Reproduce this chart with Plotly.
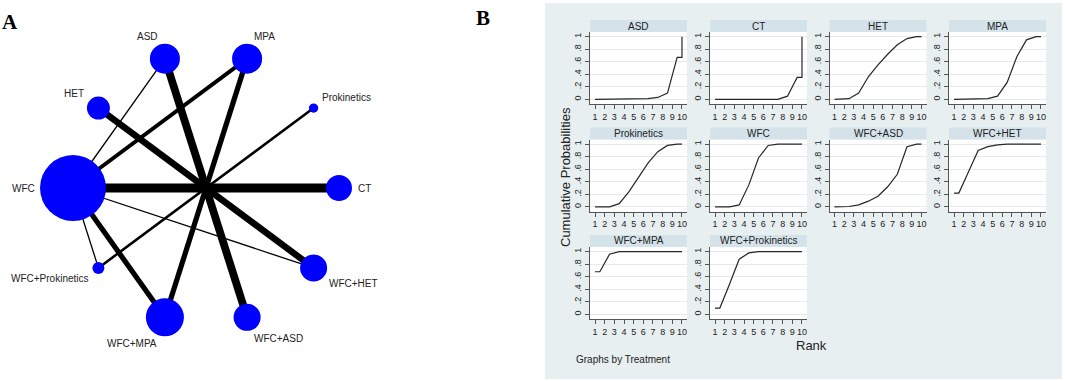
import math
import plotly.graph_objects as go

W, H = 1065, 381

# ---------------- Panel A data (network) ----------------
treatments = ["CT", "Prokinetics", "MPA", "ASD", "HET", "WFC",
              "WFC+Prokinetics", "WFC+MPA", "WFC+ASD", "WFC+HET"]
participants = [225, 29, 300, 300, 176, 1450, 48, 481, 243, 243]
edge_from = ["WFC", "HET", "ASD", "MPA", "Prokinetics",
             "WFC", "WFC", "WFC", "WFC", "WFC"]
edge_to = ["CT", "WFC+HET", "WFC+ASD", "WFC+MPA", "WFC+Prokinetics",
           "ASD", "MPA", "WFC+MPA", "WFC+HET", "WFC+Prokinetics"]
edge_studies = [7, 5, 6, 4, 2, 1, 3, 4, 1, 1]

# ---------------- Panel B data (cumulative rank probabilities) ----------------
panel_order = ["ASD", "CT", "HET", "MPA", "Prokinetics", "WFC",
               "WFC+ASD", "WFC+HET", "WFC+MPA", "WFC+Prokinetics"]
rank_x = [1, 1.5, 2.5, 3.5, 4.5, 5.5, 6.5, 7.5, 8.5, 9.5, 10, 10]
cum_ASD = [0, 0, 0, 0, 0, 0.005, 0.01, 0.03, 0.10, 0.67, 0.67, 1.0]
cum_CT = [0, 0, 0, 0, 0, 0, 0, 0, 0.05, 0.35, 0.35, 1.0]
cum_HET = [0, 0, 0.01, 0.10, 0.36, 0.55, 0.72, 0.87, 0.97, 1.0, 1.0, 1.0]
cum_MPA = [0, 0, 0, 0, 0.01, 0.05, 0.27, 0.68, 0.95, 1.0, 1.0, 1.0]
cum_Prokinetics = [0, 0, 0, 0.05, 0.24, 0.47, 0.70, 0.88, 0.98, 1.0, 1.0, 1.0]
cum_WFC = [0, 0, 0, 0.03, 0.35, 0.78, 0.98, 1.0, 1.0, 1.0, 1.0, 1.0]
cum_WFC_ASD = [0, 0, 0.005, 0.03, 0.09, 0.17, 0.32, 0.52, 0.96, 1.0, 1.0, 1.0]
cum_WFC_HET = [0.22, 0.22, 0.56, 0.90, 0.96, 0.99, 1.0, 1.0, 1.0, 1.0, 1.0, 1.0]
cum_WFC_MPA = [0.68, 0.68, 0.96, 1.0, 1.0, 1.0, 1.0, 1.0, 1.0, 1.0, 1.0, 1.0]
cum_WFC_Prokinetics = [0.10, 0.10, 0.48, 0.88, 0.98, 1.0, 1.0, 1.0, 1.0, 1.0, 1.0, 1.0]
cum_series = [cum_ASD, cum_CT, cum_HET, cum_MPA, cum_Prokinetics, cum_WFC,
              cum_WFC_ASD, cum_WFC_HET, cum_WFC_MPA, cum_WFC_Prokinetics]
rank_ticks = [1, 2, 3, 4, 5, 6, 7, 8, 9, 10]
prob_ticks = [0, 0.2, 0.4, 0.6, 0.8, 1]
prob_labels = ["0", ".2", ".4", ".6", ".8", "1"]

FONT = "Liberation Sans, Arial, sans-serif"
BG_B = "#e8eff1"
STRIP = "#d4e3e9"
TXT = "#222222"

fig = go.Figure()
shapes = []
annotations = []

# ---------------- Panel A: network plot ----------------
cx, cy, Rx, Ry = 206, 188, 133, 136
pos = {}
ang = {}
for i, t in enumerate(treatments):
    a = math.radians(36 * i)
    ang[t] = a
    pos[t] = (cx + Rx * math.cos(a), cy - Ry * math.sin(a))

for f, t, n in zip(edge_from, edge_to, edge_studies):
    fig.add_trace(go.Scatter(
        x=[pos[f][0], pos[t][0]], y=[pos[f][1], pos[t][1]],
        mode="lines", line=dict(color="black", width=1.3 * n),
        xaxis="x", yaxis="y", showlegend=False, hoverinfo="skip"))

diam = [66 * math.sqrt(p / max(participants)) for p in participants]
fig.add_trace(go.Scatter(
    x=[pos[t][0] for t in treatments], y=[pos[t][1] for t in treatments],
    mode="markers",
    marker=dict(color="#0000ff", size=diam, opacity=1, line=dict(width=0)),
    xaxis="x", yaxis="y", showlegend=False, text=treatments, hoverinfo="text"))

for t, d in zip(treatments, diam):
    a = ang[t]
    c, s = math.cos(a), math.sin(a)
    dist = (Rx + Ry) / 2 + d / 2 + 3
    lx, ly = cx + dist * c, cy - dist * s
    xa = "left" if c > 0.2 else ("right" if c < -0.2 else "center")
    ya = "bottom" if s > 0.5 else ("top" if s < -0.5 else "middle")
    annotations.append(dict(x=lx, y=ly, xref="x", yref="y", text=t, showarrow=False,
                            xanchor=xa, yanchor=ya, borderpad=0,
                            font=dict(family=FONT, size=10, color=TXT)))

fig.update_layout(
    xaxis=dict(domain=[0, 540 / W], range=[0, 540], visible=False, fixedrange=True),
    yaxis=dict(domain=[0, 1], range=[H, 0], visible=False, fixedrange=True),
)

# ---------------- Panel B: small multiples ----------------
def px(x):
    return x / W


def py(y):
    return 1 - y / H


shapes.append(dict(type="rect", xref="paper", yref="paper", layer="below",
                   x0=px(545), x1=px(1062), y0=py(379), y1=py(3),
                   fillcolor=BG_B, line=dict(width=0)))

col_x = [590, 710, 829.5, 949]
pw, ph = 97, 72
for k, (name, ys) in enumerate(zip(panel_order, cum_series)):
    r, c = divmod(k, 4)
    x0 = col_x[c]
    top = 32 + r * 107.5
    bot = top + ph
    n = k + 2
    xa, ya = f"x{n}", f"y{n}"
    shapes.append(dict(type="rect", xref="paper", yref="paper", layer="below",
                       x0=px(x0), x1=px(x0 + pw), y0=py(bot), y1=py(top),
                       fillcolor="white", line=dict(width=0)))
    shapes.append(dict(type="rect", xref="paper", yref="paper", layer="below",
                       x0=px(x0), x1=px(x0 + pw), y0=py(top), y1=py(top - 12),
                       fillcolor=STRIP, line=dict(width=0)))
    annotations.append(dict(x=px(x0 + pw / 2), y=py(top - 6), xref="paper", yref="paper",
                            text=name, showarrow=False, xanchor="center", yanchor="middle",
                            font=dict(family=FONT, size=10, color=TXT)))
    fig.add_trace(go.Scatter(x=rank_x, y=ys, mode="lines",
                             line=dict(color="#262626", width=1.2),
                             xaxis=xa, yaxis=ya, showlegend=False))
    fig.layout[f"xaxis{n}"] = dict(
        domain=[px(x0), px(x0 + pw)], range=[0.48, 10.52], anchor=ya,
        tickvals=rank_ticks, ticks="outside", ticklen=4, tickcolor="#555",
        showline=True, linecolor="#555", linewidth=1, showgrid=False, zeroline=False,
        tickfont=dict(family=FONT, size=9, color=TXT), fixedrange=True)
    fig.layout[f"yaxis{n}"] = dict(
        domain=[py(bot), py(top)], range=[-0.075, 1.075], anchor=xa,
        tickvals=prob_ticks, ticktext=prob_labels, tickangle=-90,
        ticks="outside", ticklen=4, tickcolor="#555",
        showline=True, linecolor="#555", linewidth=1,
        showgrid=True, gridcolor="#e3ebee", gridwidth=1, zeroline=False,
        tickfont=dict(family=FONT, size=9, color=TXT), fixedrange=True)

annotations += [
    dict(x=px(565), y=py(177), xref="paper", yref="paper", text="Cumulative Probabilities",
         textangle=-90, showarrow=False, xanchor="center", yanchor="middle",
         font=dict(family=FONT, size=13, color=TXT)),
    dict(x=px(811), y=py(345), xref="paper", yref="paper", text="Rank",
         showarrow=False, xanchor="center", yanchor="middle",
         font=dict(family=FONT, size=13, color=TXT)),
    dict(x=px(574), y=py(359), xref="paper", yref="paper", text="Graphs by Treatment",
         showarrow=False, xanchor="left", yanchor="middle",
         font=dict(family=FONT, size=10, color=TXT)),
    dict(x=px(10), y=py(22), xref="paper", yref="paper", text="<b>A</b>",
         showarrow=False, xanchor="center", yanchor="middle",
         font=dict(family="Liberation Serif, Times New Roman, serif", size=21, color="black")),
    dict(x=px(483), y=py(18), xref="paper", yref="paper", text="<b>B</b>",
         showarrow=False, xanchor="center", yanchor="middle",
         font=dict(family="Liberation Serif, Times New Roman, serif", size=21, color="black")),
]

fig.update_layout(
    width=W, height=H, margin=dict(l=0, r=0, t=0, b=0),
    paper_bgcolor="white", plot_bgcolor="rgba(0,0,0,0)",
    shapes=shapes, annotations=annotations, showlegend=False,
    font=dict(family=FONT, color=TXT),
)

fig.write_html("out.html", config={"displayModeBar": False},
               post_script="document.body.style.margin='0';document.body.style.overflow='hidden';")
